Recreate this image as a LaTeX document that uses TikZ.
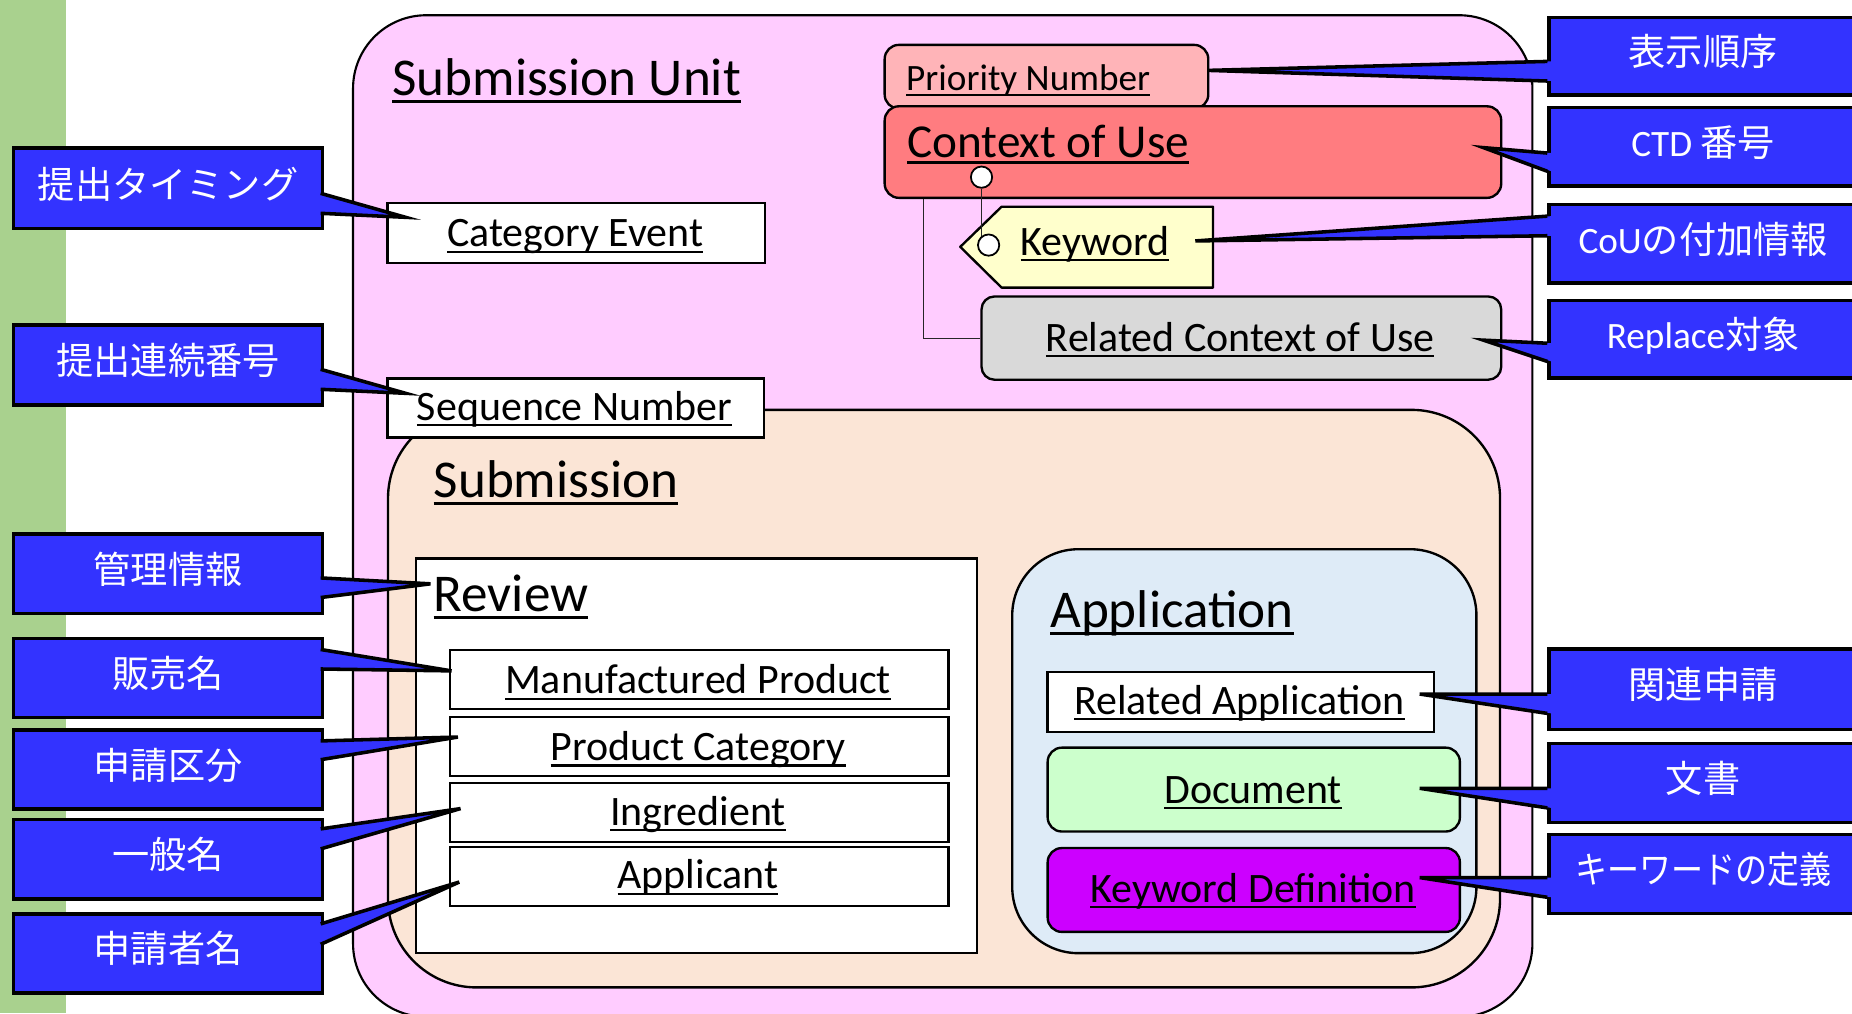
\documentclass[tikz,border=0pt]{standalone}
\usepackage{fontspec}
\setmainfont{Carlito}
\newfontfamily\jp{Noto Sans CJK JP}
\usetikzlibrary{calc}
\definecolor{greenbar}{HTML}{A9D18E}
\definecolor{pinkbg}{HTML}{FFCCFF}
\definecolor{peach}{HTML}{FBE5D6}
\definecolor{appblue}{HTML}{DEEBF7}
\definecolor{coufill}{HTML}{FF7C80}
\definecolor{priofill}{HTML}{FFB4B8}
\definecolor{kwfill}{HTML}{FFFFCC}
\definecolor{graybox}{HTML}{D9D9D9}
\definecolor{docgreen}{HTML}{CCFFCC}
\definecolor{kwdpurple}{HTML}{CC00FF}
\definecolor{callblue}{HTML}{3333FF}
\newcommand\myul[1]{\setbox0=\hbox{#1}\rlap{\rule[-0.14em]{\wd0}{0.05em}}\box0}
\tikzset{
  box/.style={draw=black, line width=2pt, inner sep=0pt, anchor=north west},
  shapeline/.style={draw=black, line width=2pt, line join=round},
  t45/.style={font=\fontsize{45}{54}\selectfont, inner sep=0pt},
  t40/.style={font=\fontsize{40}{48}\selectfont, inner sep=0pt},
  t35/.style={font=\fontsize{35.5}{42}\selectfont, inner sep=0pt},
  t31/.style={font=\fontsize{31.5}{38}\selectfont, inner sep=0pt},
  callbox/.style={draw=black, line width=3pt, fill=callblue, text=white, inner sep=0pt, anchor=north west, font=\fontsize{31.5}{38}\selectfont, text height=16.3pt, text depth=0pt},
  calledge/.style={draw=black, line width=3pt, line join=miter},
  conn/.style={draw=black!85, line width=1pt},
  dot/.style={circle, draw=black, line width=1.5pt, fill=white, minimum size=18pt, inner sep=0pt},
}
% left callout: name, top, bottom, ya, yb, tipx, tipy, text
\newcommand\lcall[8]{%
  \node[callbox, minimum width=261.5pt, minimum height={(#3-#2)*1pt}] (#1) at (10,#2) {#8};
  \coordinate (#1tip) at (#6,#7);
  \fill[callblue] (268,#4) -- (#1tip) -- (268,#5) -- cycle;
  \draw[calledge] (271.5,#4) -- (#1tip) -- (271.5,#5);
}
% right callout
\newcommand\rcall[8]{%
  \node[callbox, minimum width=261pt, minimum height={(#3-#2)*1pt}] (#1) at (1310,#2) {#8};
  \coordinate (#1tip) at (#6,#7);
  \fill[callblue] (1313.5,#4) -- (#1tip) -- (1313.5,#5) -- cycle;
  \draw[calledge] (1310,#4) -- (#1tip) -- (1310,#5);
}
\begin{document}
\begin{tikzpicture}[x=1pt,y=-1pt]
\useasboundingbox (0,0) rectangle (1568,858);
\clip (0,0) rectangle (1568,858);
\fill[white] (0,0) rectangle (1568,858);
\fill[greenbar] (0,0) rectangle (56,858);

% Submission Unit
\node[box, fill=pinkbg, line width=1.8pt, rounded corners=62pt, minimum width=998.5pt, minimum height=848pt] (su) at (298,12) {};
\node[t45, anchor=base west] (sut) at (332,80.5) {\myul{Submission Unit}};

\node[box, fill=white, minimum width=319.5pt, minimum height=50.5pt] (catev) at (327,171) {};
\node[t35, anchor=base] (catevt) at (487,209) {\myul{Category Event}};

\node[box, fill=priofill, rounded corners=12pt, minimum width=274pt, minimum height=54pt] (prio) at (748,37) {};
\node[t31, anchor=base west] (priot) at (767,77) {\myul{Priority Number}};

\node[box, fill=coufill, rounded corners=12pt, minimum width=522pt, minimum height=77.5pt] (cou) at (748,89) {};
\node[t40, anchor=base west] (cout) at (768,133) {\myul{Context of Use}};

\draw[shapeline, fill=kwfill] (813,209) -- (848,175) -- (1027,175) -- (1027,243.5) -- (848,243.5) -- cycle;
\node[t35, anchor=base west] (kwt) at (864,216) {\myul{Keyword}};

\node[box, fill=graybox, rounded corners=11pt, minimum width=440pt, minimum height=70.5pt] (rcou) at (830,250) {};
\node[t35, anchor=base] (rcout) at (1050,297.5) {\myul{Related Context of Use}};
\draw[conn] ($(cou.south west)+(34,0)$) |- (rcou.west);

\node[dot] (c1) at (831,150) {};
\draw[conn] (c1.south) -- ($(c1.south |- 0,207.5)+(0,-6)$);
\node[dot] (c2) at (837,207.5) {};

% Submission
\node[box, fill=peach, rounded corners=75pt, minimum width=941.5pt, minimum height=489pt] (subm) at (327.5,346) {};
\node[box, fill=white, minimum width=319pt, minimum height=50pt] (seqn) at (327,319.5) {};
\node[t35, anchor=base] (seqnt) at (486.5,356) {\myul{Sequence Number}};
\node[t45, anchor=base west] (submt) at (367,421) {\myul{Submission}};

% Review
\node[box, fill=white, minimum width=475pt, minimum height=334pt] (rev) at (351,472) {};
\node[t45, anchor=base west] (revt) at (367,517.5) {\myul{Review}};
\foreach \n/\y/\b/\txt in {mp/549.5/587.5/Manufactured Product, pc/606/644/Product Category, ing/662/699/Ingredient, apl/716/752.5/Applicant}{
  \node[box, fill=white, minimum width=422pt, minimum height=50pt] (\n) at (380,\y) {};
  \node[t35, anchor=base] (\n t) at (591,\b) {\myul{\txt}};
}

% Application
\node[box, fill=appblue, rounded corners=56pt, minimum width=393pt, minimum height=342pt] (appl) at (856,464) {};
\node[t45, anchor=base west] (applt) at (889,531) {\myul{Application}};
\node[box, fill=white, minimum width=327pt, minimum height=50.5pt] (rapp) at (886,568) {};
\node[t35, anchor=base] (rappt) at (1049.5,605) {\myul{Related Application}};
\node[box, fill=docgreen, rounded corners=12pt, minimum width=349pt, minimum height=71pt] (doc) at (886,632) {};
\node[t35, anchor=base] (doct) at (1061,680) {\myul{Document}};
\node[box, fill=kwdpurple, rounded corners=12pt, minimum width=349pt, minimum height=71pt] (kwd) at (886,717) {};
\node[t35, anchor=base] (kwdt) at (1061,764) {\myul{Keyword Definition}};

% callouts left
\lcall{L1}{124}{192}{163.7}{180.6}{343.4}{184}{\jp 提出タイミング}
\lcall{L2}{273.7}{341.5}{312.7}{329.6}{343.4}{333}{\jp 提出連続番号}
\lcall{L3}{450.6}{517.8}{489.3}{505.9}{364.5}{494.3}{\jp 管理情報}
\lcall{L4}{539}{606}{549.9}{566.4}{382.3}{568}{\jp 販売名}
\lcall{L5}{616.7}{683.6}{627.3}{643.2}{387.7}{624}{\jp 申請区分}
\lcall{L6}{692.2}{759.7}{701.8}{718.7}{389.9}{684.6}{\jp 一般名}
\lcall{L7}{772.3}{839}{782.2}{799.5}{388.8}{746.8}{\jp 申請者名}

% callouts right
\rcall{R1}{13.4}{79}{52}{68.6}{1023}{59.6}{\jp 表示順序}
\rcall{R2}{89.5}{156}{129.6}{145}{1256}{125}{CTD {\jp 番号}}
\rcall{R3}{171.6}{238}{183}{199.6}{1012}{204}{CoU{\jp の付加情報}}
\rcall{R4}{253}{318.6}{290.6}{306}{1256}{288}{Replace{\jp 対象}}
\rcall{R5}{548}{616}{587.6}{604}{1202}{587.6}{\jp 関連申請}
\rcall{R6}{628}{695}{667.4}{684}{1202}{667.4}{\jp 文書}
\rcall{R7}{705}{772}{743}{759.7}{1202}{743}{\scalebox{0.86}[1]{\jp キーワードの定義}}
\end{tikzpicture}
\end{document}
